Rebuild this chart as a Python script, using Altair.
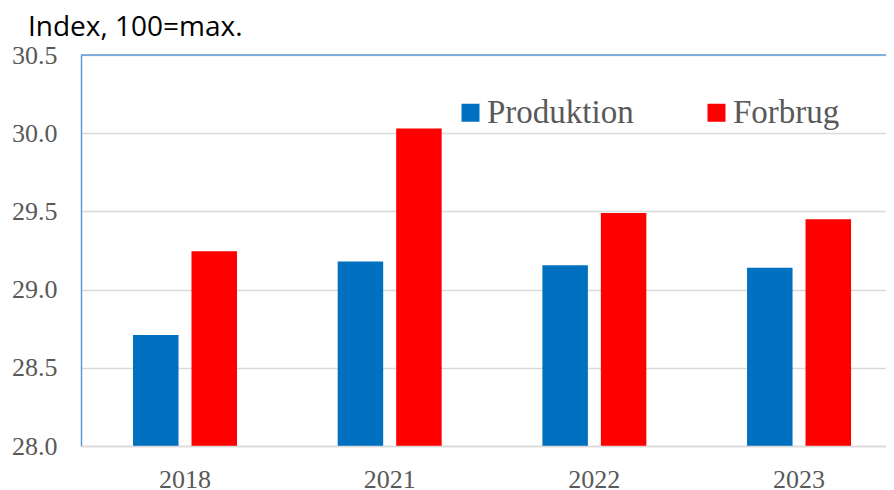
import altair as alt
import pandas as pd

years = ["2018", "2021", "2022", "2023"]
series = ["Produktion", "Forbrug"]
produktion = [28.71, 29.18, 29.155, 29.14]
forbrug = [29.245, 30.03, 29.49, 29.45]
colors = ["#0070C0", "#FF0000"]
y_ticks = [28.0, 28.5, 29.0, 29.5, 30.0, 30.5]

rows = []
for i, yr in enumerate(years):
    rows.append({"year": yr, "serie": series[0], "value": produktion[i]})
    rows.append({"year": yr, "serie": series[1], "value": forbrug[i]})
df = pd.DataFrame(rows)

SERIF = "Liberation Serif"
GRAY = "#595959"

bars = alt.Chart(df).mark_bar(clip=True).encode(
    x=alt.X("year:N", sort=years, title=None,
            scale=alt.Scale(paddingInner=0.492, paddingOuter=0.2125, align=0.598),
            axis=alt.Axis(labelAngle=0, labelFont=SERIF, labelFontSize=26, labelColor=GRAY,
                          ticks=False, domainColor="#D9D9D9", domainWidth=1.5,
                          labelPadding=20, zindex=1)),
    xOffset=alt.XOffset("serie:N", sort=series,
                        scale=alt.Scale(paddingInner=0.222, paddingOuter=0)),
    y=alt.Y("value:Q", title=None,
            scale=alt.Scale(domain=[28, 30.5], zero=False, nice=False),
            axis=alt.Axis(values=y_ticks, format=".1f", labelFont=SERIF, labelFontSize=26,
                          labelColor=GRAY, ticks=False, domainColor="#5B9BD5", domainWidth=1.5,
                          gridColor="#D9D9D9", gridWidth=1.5, labelPadding=24)),
    y2=alt.datum(28),
    color=alt.Color("serie:N", sort=series, title=None,
                    scale=alt.Scale(domain=series, range=colors),
                    legend=alt.Legend(orient="none", legendX=373, legendY=41, direction="horizontal",
                                      symbolType="square", symbolSize=324, symbolStrokeWidth=0,
                                      labelFont=SERIF, labelFontSize=33, labelColor=GRAY,
                                      labelOffset=0, columnPadding=66, labelLimit=400)),
)

top_border = alt.Chart(alt.Data(values=[{}])).mark_rule(color="#5B9BD5", strokeWidth=1.5).encode(
    y=alt.value(0)
)

chart = alt.layer(bars, top_border).properties(
    width=805,
    height=391,
    autosize=alt.AutoSizeParams(type="none"),
    padding={"left": 73, "top": 47, "right": 0, "bottom": 50},
    title=alt.Title("Index, 100=max.", anchor="start", frame="group", dx=-53, dy=30,
                    font="Open Sans", fontSize=28, fontWeight="normal", color="#000000",
                    baseline="alphabetic", offset=8),
).configure_view(stroke=None).configure_axis(labelFont=SERIF)

chart.save("out.html", embed_options={"renderer": "svg", "actions": False})
